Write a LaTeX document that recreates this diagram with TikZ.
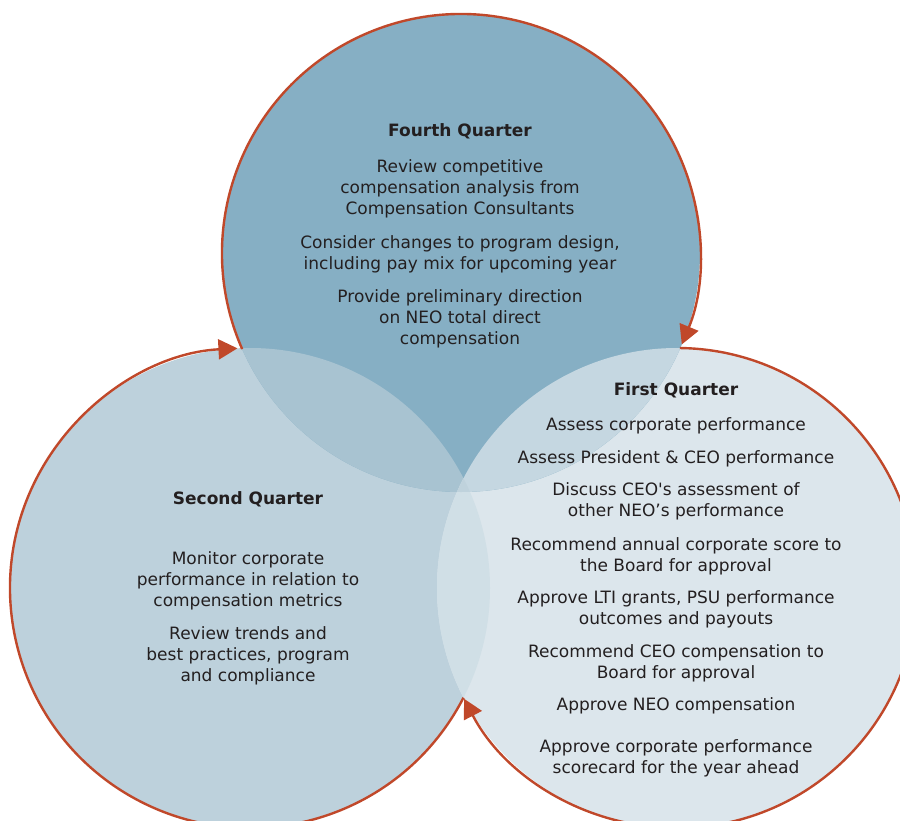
\documentclass[tikz,border=0pt]{standalone}
\usepackage{fontspec}
\setmainfont{DejaVu Sans}
\usetikzlibrary{arrows.meta}

\definecolor{topblue}{HTML}{86AFC4}
\definecolor{leftblue}{HTML}{BDD1DC}
\definecolor{rightblue}{HTML}{DCE6EC}
\definecolor{topleft}{HTML}{A8C3D1}
\definecolor{topright}{HTML}{C5D7E1}
\definecolor{leftright}{HTML}{D0DFE6}
\definecolor{triple}{HTML}{BFD2DC}
\definecolor{rust}{HTML}{C0482A}
\definecolor{textgray}{HTML}{231F20}

\begin{document}
\begin{tikzpicture}[x=1pt,y=-1pt,
  quartertext/.style={align=center, text=textgray, inner sep=0pt,
    font=\fontsize{17}{21}\selectfont},
  quartertitle/.style={quartertext, font=\fontsize{17}{21}\selectfont\bfseries},
  cyclearc/.style={draw=rust, line width=2.4pt,
    -{Triangle[length=19pt,width=20pt]}}]

  \useasboundingbox (0,0) rectangle (900,821);
  \clip (0,0) rectangle (900,821);

  % circles
  \def\topcircle{(461,253) circle (239)}
  \def\leftcircle{(250,588) circle (240)}
  \def\rightcircle{(677,588) circle (240)}

  \fill[leftblue] \leftcircle;
  \fill[rightblue] \rightcircle;
  \fill[topblue] \topcircle;
  \begin{scope}
    \clip \leftcircle;
    \fill[topleft] \topcircle;
    \fill[leftright] \rightcircle;
  \end{scope}
  \begin{scope}
    \clip \rightcircle;
    \fill[topright] \topcircle;
  \end{scope}
  \begin{scope}
    \clip \leftcircle;
    \clip \rightcircle;
    \fill[triple] \topcircle;
  \end{scope}

  % outer arcs with arrows
  \draw[cyclearc] (461,253) ++(156.3:239) arc[start angle=156.3, end angle=382.5, radius=239];
  \draw[cyclearc] (677,588) ++(270.7:240) arc[start angle=270.7, end angle=512.5, radius=240];
  \draw[cyclearc] (250,588) ++(27.2:240) arc[start angle=27.2, end angle=267, radius=240];

  % Fourth Quarter
  \node[quartertitle] (fourth title) at (460,131) {Fourth Quarter};
  \node[quartertext] (fourth a) at (460,189) {Review competitive\\compensation analysis from\\Compensation Consultants};
  \node[quartertext] (fourth b) at (460,254.5) {Consider changes to program design,\\including pay mix for upcoming year};
  \node[quartertext] (fourth c) at (460,319) {Provide preliminary direction\\on NEO total direct\\compensation};

  % First Quarter
  \node[quartertitle] (first title) at (676,390) {First Quarter};
  \node[quartertext] (first a) at (676,426) {Assess corporate performance};
  \node[quartertext] (first b) at (676,459) {Assess President \& CEO performance};
  \node[quartertext] (first c) at (676,501.5) {Discuss CEO\textquotesingle s assessment of\\other NEO’s performance};
  \node[quartertext] (first d) at (676,556.5) {Recommend annual corporate score to\\the Board for approval};
  \node[quartertext] (first e) at (676,609.5) {Approve LTI grants, PSU performance\\outcomes and payouts};
  \node[quartertext] (first f) at (676,663) {Recommend CEO compensation to\\Board for approval};
  \node[quartertext] (first g) at (676,706) {Approve NEO compensation};
  \node[quartertext] (first h) at (676,758.5) {Approve corporate performance\\scorecard for the year ahead};

  % Second Quarter
  \node[quartertitle] (second title) at (248,499) {Second Quarter};
  \node[quartertext] (second a) at (248,581) {Monitor corporate\\performance in relation to\\compensation metrics};
  \node[quartertext] (second b) at (248,656) {Review trends and\\best practices, program\\and compliance};

\end{tikzpicture}
\end{document}
